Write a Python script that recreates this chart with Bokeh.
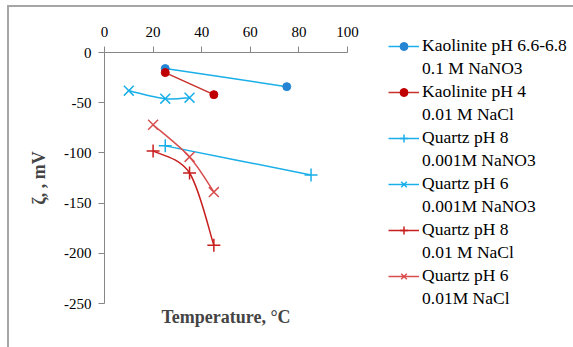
from bokeh.plotting import figure
from bokeh.models import (Legend, LegendItem, Title, Range1d, FixedTicker,
                          PrintfTickFormatter, InlineStyleSheet)
from bokeh.embed import file_html
from bokeh.resources import INLINE

# ---- data ----
x_ticks = [0, 20, 40, 60, 80, 100]
y_ticks = [0, -50, -100, -150, -200, -250]

temp_kaol_66 = [25, 75]
zeta_kaol_66 = [-16, -34]
temp_kaol_4 = [25, 45]
zeta_kaol_4 = [-20, -42]
temp_q8_no3 = [25, 85]
zeta_q8_no3 = [-93, -122]
temp_q6_no3 = [10, 25, 35]
zeta_q6_no3 = [-38, -46, -45]
temp_q8_cl = [20, 35, 45]
zeta_q8_cl = [-98, -120, -192]
temp_q6_cl = [20, 35, 45]
zeta_q6_cl = [-72, -104, -139]

labels_1 = ["Kaolinite pH 6.6-6.8", "Kaolinite pH 4", "Quartz pH 8",
            "Quartz pH 6", "Quartz pH 8", "Quartz pH 6"]
labels_2 = ["0.1 M NaNO3", "0.01 M NaCl", "0.001M NaNO3",
            "0.001M NaNO3", "0.01 M NaCl", "0.01M NaCl"]

SERIF = "Liberation Serif"

p = figure(frame_width=243, frame_height=251, x_axis_location="above",
           x_range=Range1d(0, 100), y_range=Range1d(-250, 0),
           output_backend="svg", toolbar_location=None,
           min_border_left=104, min_border_right=10,
           min_border_top=52, min_border_bottom=44)
p.grid.visible = False
p.outline_line_color = None
p.background_fill_color = "white"
p.border_fill_color = "white"

# chart-area border (drawn by CSS on top of the canvas)
p.stylesheets = [InlineStyleSheet(css="""
:host { position: relative; }
:host::after { content: ''; position: absolute; left: 7px; top: 5px;
  width: 700px; height: 500px; border: 2px solid #A6A6A6;
  pointer-events: none; box-sizing: border-box; }
""")]

for ax in (p.xaxis[0], p.yaxis[0]):
    ax.axis_line_color = "#868686"
    ax.major_tick_line_color = "#868686"
    ax.minor_tick_line_color = None
    ax.major_tick_in = 0
    ax.major_tick_out = 6
    ax.major_label_text_font = SERIF
    ax.major_label_text_font_size = "15px"
    ax.major_label_text_color = "black"
    ax.formatter = PrintfTickFormatter(format="%d")

p.xaxis[0].ticker = FixedTicker(ticks=x_ticks)
p.yaxis[0].ticker = FixedTicker(ticks=y_ticks)
p.xaxis[0].major_label_standoff = 10
p.yaxis[0].major_label_standoff = 7

p.yaxis[0].axis_label = "ζ, , mV"
p.yaxis[0].axis_label_text_font = SERIF
p.yaxis[0].axis_label_text_font_size = "18px"
p.yaxis[0].axis_label_text_font_style = "bold"
p.yaxis[0].axis_label_standoff = 12

p.add_layout(Title(text="Temperature, °C", align="center", text_font=SERIF,
                   text_font_size="18px", text_font_style="bold",
                   standoff=2), "below")


def smooth_segments(xs, ys):
    n = len(xs)
    seg = dict(x0=[], y0=[], x1=[], y1=[], cx0=[], cy0=[], cx1=[], cy1=[])
    for i in range(n - 1):
        xa, ya = (xs[i - 1], ys[i - 1]) if i > 0 else (xs[i], ys[i])
        xd, yd = (xs[i + 2], ys[i + 2]) if i + 2 < n else (xs[i + 1], ys[i + 1])
        seg["x0"].append(xs[i]); seg["y0"].append(ys[i])
        seg["x1"].append(xs[i + 1]); seg["y1"].append(ys[i + 1])
        seg["cx0"].append(xs[i] + (xs[i + 1] - xa) / 6)
        seg["cy0"].append(ys[i] + (ys[i + 1] - ya) / 6)
        seg["cx1"].append(xs[i + 1] - (xd - xs[i]) / 6)
        seg["cy1"].append(ys[i + 1] - (yd - ys[i]) / 6)
    return seg


series = [
    (temp_kaol_66, zeta_kaol_66, "#1AAFE8", "circle", "#2585D4", 8),
    (temp_kaol_4, zeta_kaol_4, "#C8302C", "circle", "#C00000", 8),
    (temp_q8_no3, zeta_q8_no3, "#1AAFE8", "cross", "#1AAFE8", 13),
    (temp_q6_no3, zeta_q6_no3, "#1AAFE8", "x", "#1AAFE8", 14),
    (temp_q8_cl, zeta_q8_cl, "#C81E1E", "cross", "#C81E1E", 13),
    (temp_q6_cl, zeta_q6_cl, "#D84E4E", "x", "#D84E4E", 14),
]

NAN = float("nan")
blank = p.line([NAN], [NAN], line_alpha=0)
items = []
for (xs, ys, lc, mk, mc, ms), l1, l2 in zip(series, labels_1, labels_2):
    p.bezier(line_color=lc, line_width=1.5, **smooth_segments(xs, ys))
    if mk == "circle":
        sc = p.scatter(xs, ys, marker=mk, size=ms, fill_color=mc, line_color=mc)
    else:
        sc = p.scatter(xs, ys, marker=mk, size=ms, line_color=mc, line_width=1.5)
    leg_line = p.line([NAN], [NAN], line_color=lc, line_width=1.5)
    items.append(LegendItem(label=l1, renderers=[leg_line, sc]))
    items.append(LegendItem(label=l2, renderers=[blank]))

legend = Legend(items=items, location=(41, -6), padding=0, margin=0,
                spacing=2, label_height=20, glyph_height=20, glyph_width=31,
                label_standoff=3, border_line_color=None,
                background_fill_alpha=0, label_text_font=SERIF,
                label_text_font_size="17.5px", label_text_color="black")
p.add_layout(legend, "right")

open("out.html", "w").write(file_html(p, INLINE))
